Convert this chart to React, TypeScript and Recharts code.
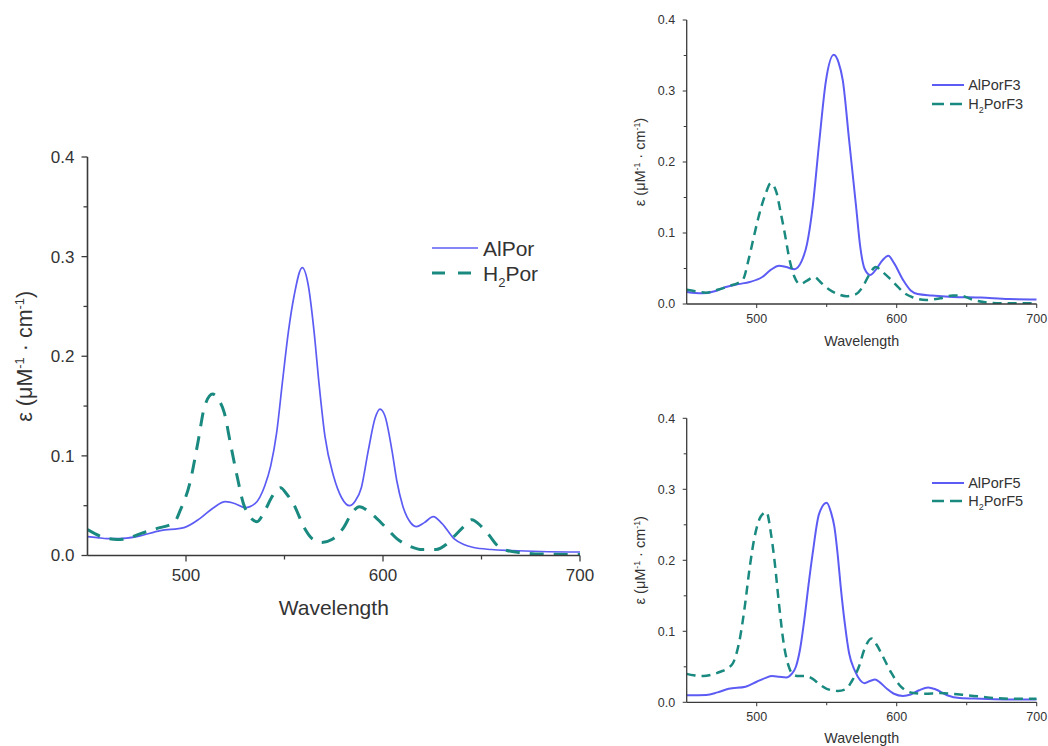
import React from 'react';
import { LineChart, Line, XAxis, YAxis, Legend } from 'recharts';

// ---------- data ----------
const X_TICKS = [500, 550, 600, 650, 700];
const Y_TICKS = [0, 0.05, 0.1, 0.15, 0.2, 0.25, 0.3, 0.35, 0.4];

// Main panel: AlPor / H2Por
const alPorWl = [450, 455, 460, 466, 475, 487, 499, 507, 514, 520, 525, 530, 535, 540, 543, 546, 549, 552, 555, 559, 562, 565, 567.5, 570.5, 575, 579, 583, 586, 589, 592.5, 596, 598.5, 601, 604.5, 607, 610, 614, 617, 621, 625.5, 630, 636, 641, 646, 655, 665, 680, 700];
const alPorEps = [0.019, 0.018, 0.017, 0.017, 0.019, 0.025, 0.028, 0.037, 0.048, 0.054, 0.052, 0.048, 0.052, 0.07, 0.09, 0.123, 0.175, 0.225, 0.262, 0.289, 0.272, 0.225, 0.173, 0.12, 0.079, 0.058, 0.05, 0.055, 0.068, 0.105, 0.138, 0.147, 0.14, 0.106, 0.075, 0.05, 0.033, 0.029, 0.033, 0.039, 0.032, 0.017, 0.011, 0.008, 0.006, 0.005, 0.004, 0.0035];
const h2PorWl = [450, 457, 465, 470, 477, 485, 494, 497, 502, 506, 509.5, 513.5, 517, 519.5, 522.5, 526, 529, 532, 536, 540, 544, 548, 551, 555, 560, 564, 569, 574, 580, 584, 588, 594, 601, 607, 614, 620, 627, 632, 636, 641, 645, 650, 654, 658, 663, 670, 680, 700];
const h2PorEps = [0.026, 0.019, 0.016, 0.017, 0.022, 0.027, 0.033, 0.045, 0.073, 0.113, 0.15, 0.162, 0.155, 0.143, 0.113, 0.079, 0.053, 0.04, 0.034, 0.045, 0.06, 0.068, 0.062, 0.05, 0.028, 0.017, 0.013, 0.016, 0.028, 0.042, 0.049, 0.042, 0.029, 0.017, 0.009, 0.006, 0.006, 0.011, 0.019, 0.029, 0.036, 0.029, 0.02, 0.01, 0.005, 0.003, 0.0015, 0.001];

// Top-right panel: AlPorF3 / H2PorF3
const alPorF3Wl = [450, 461, 470, 478, 487, 495, 504, 510, 516, 521, 527, 532, 536, 540, 544.5, 549.5, 555, 558.5, 561.5, 566, 571, 574, 577, 581, 585, 590, 594, 598, 604.5, 610, 615, 625, 640, 660, 680, 700];
const alPorF3Eps = [0.017, 0.015, 0.018, 0.024, 0.028, 0.031, 0.038, 0.048, 0.054, 0.052, 0.049, 0.06, 0.085, 0.137, 0.225, 0.315, 0.351, 0.34, 0.315, 0.231, 0.137, 0.08, 0.05, 0.041, 0.048, 0.062, 0.068, 0.058, 0.034, 0.019, 0.014, 0.012, 0.01, 0.009, 0.007, 0.0065];
const h2PorF3Wl = [450, 456, 464, 472, 480, 490, 494.5, 498, 501, 506.5, 510, 514, 517, 520, 523.5, 527, 531, 536, 541, 546, 552, 558, 564, 570, 576, 580, 585, 590, 595, 600, 605, 612, 621, 631, 640, 645, 655, 665, 675, 700];
const h2PorF3Eps = [0.02, 0.018, 0.016, 0.02, 0.025, 0.034, 0.065, 0.095, 0.12, 0.156, 0.17, 0.158, 0.13, 0.1, 0.062, 0.038, 0.028, 0.033, 0.038, 0.03, 0.02, 0.014, 0.011, 0.013, 0.025, 0.04, 0.052, 0.045, 0.036, 0.026, 0.016, 0.009, 0.0056, 0.008, 0.012, 0.012, 0.0056, 0.002, 0.001, 0.001];

// Bottom-right panel: AlPorF5 / H2PorF5
const alPorF5Wl = [450, 464, 472, 480, 492, 500, 506, 511, 516, 521, 525, 528, 531, 534, 537, 540, 544.5, 550, 553, 555.5, 558, 560, 563, 566, 570, 574, 577, 581, 584.5, 588, 593, 598, 604.5, 610, 616, 622.5, 628, 636, 645, 660, 680, 700];
const alPorF5Eps = [0.01, 0.0103, 0.014, 0.019, 0.022, 0.029, 0.034, 0.037, 0.036, 0.035, 0.04, 0.05, 0.075, 0.116, 0.165, 0.21, 0.265, 0.281, 0.268, 0.247, 0.205, 0.163, 0.11, 0.069, 0.045, 0.031, 0.027, 0.03, 0.032, 0.028, 0.019, 0.012, 0.009, 0.011, 0.017, 0.021, 0.018, 0.01, 0.006, 0.005, 0.004, 0.004];
const h2PorF5Wl = [450, 455, 462, 468, 474, 480, 483, 486, 488, 491.5, 495, 498.5, 503, 507, 510, 512.7, 516, 519.5, 523, 526, 530, 535, 540, 545, 550, 558, 564, 568, 573, 577, 582, 586, 590, 596, 603, 612, 620, 631, 640, 650, 660, 670, 685, 700];
const h2PorF5Eps = [0.04, 0.038, 0.037, 0.039, 0.043, 0.049, 0.055, 0.072, 0.09, 0.135, 0.19, 0.233, 0.262, 0.268, 0.24, 0.2, 0.137, 0.08, 0.05, 0.039, 0.037, 0.037, 0.033, 0.025, 0.019, 0.016, 0.019, 0.03, 0.05, 0.075, 0.09, 0.08, 0.065, 0.042, 0.022, 0.013, 0.012, 0.013, 0.012, 0.01, 0.008, 0.006, 0.005, 0.005];

const toRows = (wl: number[], eps: number[]) => wl.map((w, i) => ({ wl: w, eps: eps[i] }));

// ---------- styles ----------
const FONT = '"Liberation Sans", Arial, Helvetica, sans-serif';
const BLUE = '#5c5cf4';
const TEAL = '#1a8a80';
const AXIS = '#3a3a3a';
const TEXT = '#333333';

type Cfg = {
  left: number; top: number; width: number; height: number;
  margin: { top: number; right: number; bottom: number; left: number };
  yAxisW: number; xAxisH: number;
  tickFont: number; majorTick: number; minorTick: number;
  xTickOffset: number; yTickGap: number;
  labelFont: number; xLabelOffset: number; yLabelOffset: number; yLabelFont: number;
  axisW: number; blueW: number; tealW: number; dash: string;
  legend: { left: number; top: number; rowH: number; sampleW: number; font: number; dash: string; gap: number };
  names: [string, string, string];
};

const isMajor = (v: number, step: number) => Math.abs(v / step - Math.round(v / step)) < 1e-6;

const XTick = (props: any) => {
  const { x, y, payload, cfg } = props;
  const v = payload.value as number;
  const major = isMajor(v, 100);
  const len = major ? cfg.majorTick : cfg.minorTick;
  return (
    <g>
      <line x1={x} x2={x} y1={y} y2={y + len} stroke={AXIS} strokeWidth={cfg.axisW * 0.8} />
      {major && (
        <text x={x} y={y + cfg.xTickOffset} dy="0.35em" textAnchor="middle" fontFamily={FONT} fontSize={cfg.tickFont} fill={TEXT}>
          {String(v)}
        </text>
      )}
    </g>
  );
};

const YTick = (props: any) => {
  const { x, y, payload, cfg } = props;
  const v = payload.value as number;
  const major = isMajor(v, 0.1);
  const len = major ? cfg.majorTick : cfg.minorTick;
  return (
    <g>
      <line x1={x} x2={x - len} y1={y} y2={y} stroke={AXIS} strokeWidth={cfg.axisW * 0.8} />
      {major && (
        <text x={x - cfg.yTickGap} y={y} dy="0.35em" textAnchor="end" fontFamily={FONT} fontSize={cfg.tickFont} fill={TEXT}>
          {v.toFixed(1)}
        </text>
      )}
    </g>
  );
};

const XLabel = (cfg: Cfg) => (props: any) => {
  const vb = props.viewBox || {};
  const cx = vb.x + vb.width / 2;
  const cy = vb.y + cfg.xLabelOffset;
  return (
    <text x={cx} y={cy} dy="0.35em" textAnchor="middle" fontFamily={FONT} fontSize={cfg.labelFont} fill={TEXT}>
      Wavelength
    </text>
  );
};

const YLabel = (cfg: Cfg) => (props: any) => {
  const vb = props.viewBox || {};
  const cx = vb.x + vb.width - cfg.yLabelOffset;
  const cy = vb.y + vb.height / 2;
  const f = cfg.yLabelFont;
  const sup = f * 0.6;
  return (
    <text x={cx} y={cy} dy="0.35em" textAnchor="middle" transform={`rotate(-90 ${cx} ${cy})`} fontFamily={FONT} fontSize={f} fill={TEXT}>
      <tspan>ε (μM</tspan>
      <tspan fontSize={sup} dy={-f * 0.38}>-1</tspan>
      <tspan dy={f * 0.38}> · cm</tspan>
      <tspan fontSize={sup} dy={-f * 0.38}>-1</tspan>
      <tspan dy={f * 0.38}>)</tspan>
    </text>
  );
};

const LegendBox = ({ cfg }: { cfg: Cfg }) => {
  const L = cfg.legend;
  const row = (color: string, dash: string | undefined, w: number, label: React.ReactNode) => (
    <div style={{ display: 'flex', alignItems: 'center', height: L.rowH }}>
      <svg width={L.sampleW} height={8} style={{ display: 'block' }}>
        <line x1={0} x2={L.sampleW} y1={4} y2={4} stroke={color} strokeWidth={w} strokeDasharray={dash} />
      </svg>
      <span style={{ marginLeft: L.gap, fontFamily: FONT, fontSize: L.font, color: TEXT, lineHeight: 1, whiteSpace: 'nowrap' }}>{label}</span>
    </div>
  );
  return (
    <div>
      {row(BLUE, undefined, cfg.blueW, cfg.names[0])}
      {row(TEAL, L.dash, cfg.tealW, (
        <span>
          {cfg.names[1]}
          <span style={{ fontSize: L.font * 0.62, position: 'relative', top: L.font * 0.3 }}>2</span>
          {cfg.names[2]}
        </span>
      ))}
    </div>
  );
};

const Panel = ({ cfg, a, b }: { cfg: Cfg; a: any[]; b: any[] }) => (
  <div style={{ position: 'absolute', left: cfg.left, top: cfg.top, width: cfg.width, height: cfg.height }}>
    <LineChart width={cfg.width} height={cfg.height} margin={cfg.margin}>
      <XAxis
        type="number"
        dataKey="wl"
        domain={[450, 700]}
        ticks={X_TICKS}
        interval={0}
        allowDataOverflow
        height={cfg.xAxisH}
        tickSize={0}
        tickMargin={0}
        tickLine={false}
        axisLine={{ stroke: AXIS, strokeWidth: cfg.axisW }}
        tick={(p: any) => <XTick {...p} cfg={cfg} />}
        label={{ content: XLabel(cfg) } as any}
      />
      <YAxis
        type="number"
        domain={[0, 0.4]}
        ticks={Y_TICKS}
        interval={0}
        allowDataOverflow
        width={cfg.yAxisW}
        tickSize={0}
        tickMargin={0}
        tickLine={false}
        axisLine={{ stroke: AXIS, strokeWidth: cfg.axisW }}
        tick={(p: any) => <YTick {...p} cfg={cfg} />}
        label={{ content: YLabel(cfg) } as any}
      />
      <Line data={a} dataKey="eps" name="a" type="monotone" stroke={BLUE} strokeWidth={cfg.blueW} dot={false} activeDot={false} isAnimationActive={false} />
      <Line data={b} dataKey="eps" name="b" type="monotone" stroke={TEAL} strokeWidth={cfg.tealW} strokeDasharray={cfg.dash} dot={false} activeDot={false} isAnimationActive={false} />
      <Legend
        layout="horizontal"
        verticalAlign="middle"
        align="center"
        content={() => <LegendBox cfg={cfg} />}
        wrapperStyle={{ left: cfg.legend.left, top: cfg.legend.top, width: 'auto', height: 'auto' }}
      />
    </LineChart>
  </div>
);

const mainCfg: Cfg = {
  left: 0, top: 0, width: 600, height: 640,
  margin: { top: 157, right: 20, bottom: 0, left: 0 },
  yAxisW: 87.5, xAxisH: 84.5,
  tickFont: 17, majorTick: 6, minorTick: 4,
  xTickOffset: 20, yTickGap: 13,
  labelFont: 21, xLabelOffset: 52, yLabelOffset: 63, yLabelFont: 21.5,
  axisW: 1.6, blueW: 1.7, tealW: 3, dash: '14 10',
  legend: { left: 432, top: 235.5, rowH: 25, sampleW: 46, font: 21, dash: '13 13', gap: 5 },
  names: ['AlPor', 'H', 'Por'],
};

const topCfg: Cfg = {
  left: 600, top: 0, width: 448, height: 360,
  margin: { top: 20, right: 11.3, bottom: 0, left: 0 },
  yAxisW: 86.7, xAxisH: 56,
  tickFont: 12.5, majorTick: 4, minorTick: 3,
  xTickOffset: 15, yTickGap: 11.5,
  labelFont: 14.3, xLabelOffset: 36.7, yLabelOffset: 46.7, yLabelFont: 14.5,
  axisW: 1.3, blueW: 2, tealW: 2.5, dash: '9 6',
  legend: { left: 331.7, top: 76, rowH: 18.7, sampleW: 32, font: 14.5, dash: '12 6', gap: 4.5 },
  names: ['AlPorF3', 'H', 'PorF3'],
};

const botCfg: Cfg = {
  left: 600, top: 380, width: 448, height: 366,
  margin: { top: 38.3, right: 11.3, bottom: 0, left: 0 },
  yAxisW: 86.7, xAxisH: 43.7,
  tickFont: 12.5, majorTick: 4, minorTick: 3,
  xTickOffset: 14.4, yTickGap: 11.5,
  labelFont: 14.3, xLabelOffset: 35.7, yLabelOffset: 46.7, yLabelFont: 14.5,
  axisW: 1.3, blueW: 2, tealW: 2.5, dash: '9 6',
  legend: { left: 331.7, top: 94.7, rowH: 17.4, sampleW: 32, font: 14.5, dash: '12 6', gap: 4.5 },
  names: ['AlPorF5', 'H', 'PorF5'],
};

export default function App() {
  return (
    <div style={{ position: 'absolute', left: 0, top: 0, width: 1048, height: 746, background: '#ffffff', overflow: 'hidden' }}>
      <Panel cfg={mainCfg} a={toRows(alPorWl, alPorEps)} b={toRows(h2PorWl, h2PorEps)} />
      <Panel cfg={topCfg} a={toRows(alPorF3Wl, alPorF3Eps)} b={toRows(h2PorF3Wl, h2PorF3Eps)} />
      <Panel cfg={botCfg} a={toRows(alPorF5Wl, alPorF5Eps)} b={toRows(h2PorF5Wl, h2PorF5Eps)} />
    </div>
  );
}
